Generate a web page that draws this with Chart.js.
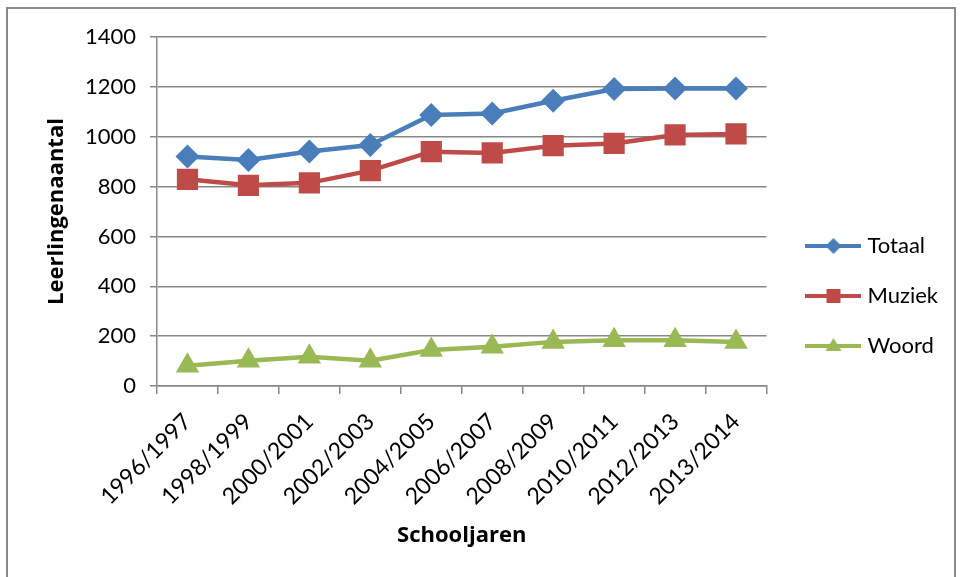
<!DOCTYPE html>
<html>
<head>
<meta charset="utf-8">
<script src="https://cdn.jsdelivr.net/npm/chart.js@4"></script>
<style>
  body { margin: 0; background: #fff; }
  #wrap { position: relative; width: 960px; height: 577px; overflow: hidden; }
  #frame { position: absolute; left: 6px; top: 7px; width: 950px; height: 600px; border: 2px solid #8a8a8a; box-sizing: border-box; }
  canvas { position: absolute; left: 0; top: 0; }
</style>
</head>
<body>
<div id="wrap">
  <div id="frame"></div>
  <canvas id="myChart" width="960" height="577"></canvas>
</div>
<script>
// schooljaren en leerlingenaantallen
const categories = ['1996/1997', '1998/1999', '2000/2001', '2002/2003', '2004/2005',
                    '2006/2007', '2008/2009', '2010/2011', '2012/2013', '2013/2014'];
const totaal = [921, 907, 941, 967, 1087, 1093, 1144, 1191, 1193, 1193];
const muziek = [829, 805, 815, 864, 940, 935, 964, 973, 1007, 1011];
const woord = [81, 101, 117, 101, 144, 157, 177, 184, 184, 177];
const yTicks = [0, 200, 400, 600, 800, 1000, 1200, 1400];

const blue = '#4A7EBB';
const red = '#BE4B48';
const green = '#98B954';
const gridColor = '#878787';
const font = 'Lato';
const titleFont = 'Open Sans';
const legendShift = 16;

// small legend icons: line with marker in the middle
function makeIcon(color, shape) {
  const c = document.createElement('canvas');
  c.width = 56; c.height = 24;
  const g = c.getContext('2d');
  g.strokeStyle = color;
  g.lineWidth = 4;
  g.beginPath(); g.moveTo(0, 12); g.lineTo(56, 12); g.stroke();
  g.fillStyle = color;
  g.beginPath();
  if (shape === 'diamond') {
    g.moveTo(28, 4); g.lineTo(36, 12); g.lineTo(28, 20); g.lineTo(20, 12);
  } else if (shape === 'square') {
    g.rect(21, 5, 14, 14);
  } else {
    g.moveTo(28, 4); g.lineTo(36, 17); g.lineTo(20, 17);
  }
  g.closePath(); g.fill();
  return c;
}
const icons = [makeIcon(blue, 'diamond'), makeIcon(red, 'square'), makeIcon(green, 'triangle')];

// widen the legend box so the plot ends where the reference does, then slide the items right
const legendSpace = {
  id: 'legendSpace',
  beforeInit(chart) {
    const fit = chart.legend.fit;
    chart.legend.fit = function () {
      fit.bind(chart.legend)();
      this.width += legendShift;
    };
  },
  afterLayout(chart) {
    chart.legend.left += legendShift;
    chart.legend.top += 3;
    chart.legend.bottom += 3;
  }
};

const ctx = document.getElementById('myChart').getContext('2d');

new Chart(ctx, {
  type: 'line',
  data: {
    labels: categories,
    datasets: [
      {
        label: 'Totaal',
        data: totaal,
        borderColor: blue,
        backgroundColor: blue,
        borderWidth: 4.5,
        pointStyle: 'rectRot',
        pointRadius: 12,
        pointBorderWidth: 0,
        tension: 0
      },
      {
        label: 'Muziek',
        data: muziek,
        borderColor: red,
        backgroundColor: red,
        borderWidth: 4.5,
        pointStyle: 'rect',
        pointRadius: 15,
        pointBorderWidth: 0,
        tension: 0
      },
      {
        label: 'Woord',
        data: woord,
        borderColor: green,
        backgroundColor: green,
        borderWidth: 4.5,
        pointStyle: 'triangle',
        pointRadius: 13.5,
        pointBorderWidth: 0,
        tension: 0
      }
    ]
  },
  plugins: [legendSpace],
  options: {
    responsive: false,
    animation: false,
    layout: { padding: { top: 37, left: 44, right: 12, bottom: 28 } },
    plugins: {
      tooltip: { enabled: false },
      legend: {
        position: 'right',
        labels: {
          usePointStyle: true,
          pointStyleWidth: 46,
          padding: 28,
          color: '#000',
          font: { family: font, size: 22 },
          generateLabels(chart) {
            const items = Chart.defaults.plugins.legend.labels.generateLabels(chart);
            items.forEach((it, i) => { it.pointStyle = icons[i]; });
            return items;
          }
        }
      }
    },
    scales: {
      x: {
        offset: true,
        afterFit(scale) { scale.height = 163; },
        grid: { offset: true, drawOnChartArea: false, drawTicks: true, tickLength: 8, color: gridColor, lineWidth: 1.5 },
        border: { color: gridColor, width: 1.5 },
        ticks: { color: '#000', font: { family: font, size: 23 }, minRotation: 45, maxRotation: 45, padding: 14, autoSkip: false },
        title: { display: true, text: 'Schooljaren', color: '#000', font: { family: titleFont, size: 22, weight: 'bold' }, padding: { top: 10, bottom: 0 } }
      },
      y: {
        min: 0,
        max: 1400,
        afterFit(scale) { scale.width = 113; },
        afterBuildTicks(scale) { scale.ticks = yTicks.map(v => ({ value: v })); },
        grid: { color: gridColor, lineWidth: 1.5, tickLength: 7 },
        border: { color: gridColor, width: 1.5 },
        ticks: { color: '#000', font: { family: font, size: 22 }, padding: 14, callback: v => String(v) },
        title: { display: true, text: 'Leerlingenaantal', color: '#000', font: { family: titleFont, size: 22, weight: 'bold' }, padding: { top: 0, bottom: 17 } }
      }
    }
  }
});
</script>
</body>
</html>
